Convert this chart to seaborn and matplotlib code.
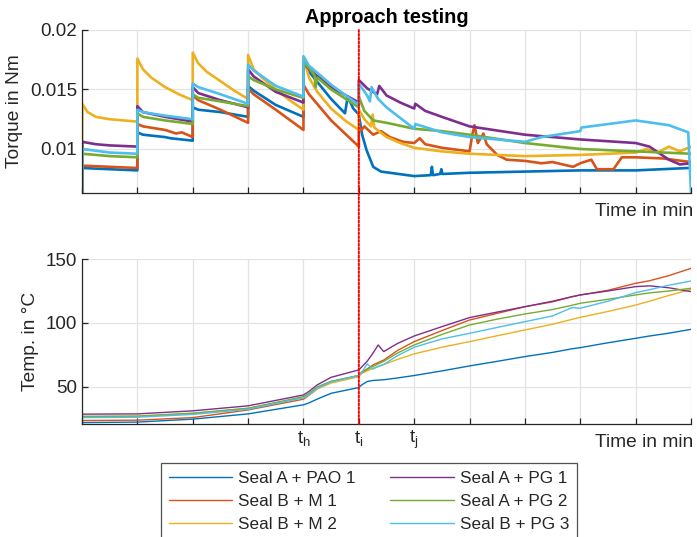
import numpy as np
import pandas as pd
import matplotlib
matplotlib.use("Agg")
import matplotlib.pyplot as plt
import seaborn as sns
from matplotlib.patches import ConnectionPatch
from matplotlib.lines import Line2D

# ---------------- data ----------------
series_names = ["Seal A + PAO 1", "Seal B + M 1", "Seal B + M 2",
                "Seal A + PG 1", "Seal A + PG 2", "Seal B + PG 3"]
series_colors = ["#0072BD", "#D95319", "#EDB120", "#7E2F8E", "#77AC30", "#4DBEEE"]

# torque (time in tick units, value in Nm)
tq_pao1_t = [0, 0.005, 0.5, 1.0, 1.0, 1.1, 1.5, 1.6, 2.0, 2.0, 2.1, 2.5, 3.0, 3.0, 3.1, 3.5, 4.0,
             4.0, 4.1, 4.5, 4.75, 4.8, 4.85, 4.9, 5.0, 5.06, 5.14, 5.26, 5.4, 5.56, 6.0, 6.3, 6.32,
             6.34, 6.47, 6.49, 6.51, 7.0, 8.0, 9.0, 10.0, 10.95]
tq_pao1_v = [0.0063, 0.0084, 0.0083, 0.0082, 0.0114, 0.0112, 0.0110, 0.0109, 0.0107, 0.0135, 0.0133,
             0.0131, 0.0127, 0.0153, 0.0149, 0.0137, 0.0127, 0.0172, 0.0165, 0.0142, 0.0130, 0.0144,
             0.0139, 0.0134, 0.0129, 0.0112, 0.0099, 0.0085, 0.0081, 0.0080, 0.00772, 0.0078, 0.0085,
             0.0078, 0.0079, 0.0083, 0.0079, 0.0080, 0.0081, 0.0082, 0.0082, 0.0084]

tq_m1_t = [0, 0.005, 0.5, 1.0, 1.0, 1.1, 1.5, 1.7, 1.8, 2.0, 2.0, 2.1, 2.5, 3.0, 3.0, 3.1, 3.5, 4.0,
           4.0, 4.1, 4.5, 5.0, 5.0, 5.05, 5.1, 5.26, 5.4, 5.56, 5.8, 6.0, 6.1, 6.2, 6.5, 7.0, 7.05,
           7.09, 7.15, 7.25, 7.31, 7.5, 7.67, 8.0, 8.3, 8.5, 8.87, 9.0, 9.2, 9.3, 9.6, 9.75, 10.0,
           10.5, 11.0]
tq_m1_v = [0.0063, 0.0086, 0.0085, 0.0084, 0.0121, 0.0119, 0.0116, 0.0113, 0.0114, 0.0110, 0.0145,
           0.0141, 0.0133, 0.0122, 0.0151, 0.0146, 0.0133, 0.0116, 0.0154, 0.0146, 0.0124, 0.0102,
           0.0118, 0.0116, 0.0119, 0.0112, 0.0115, 0.0110, 0.0106, 0.0105, 0.0109, 0.0104, 0.0101,
           0.0098, 0.0112, 0.0120, 0.0105, 0.0113, 0.0104, 0.0095, 0.0091, 0.0090, 0.0088, 0.0089,
           0.0085, 0.0088, 0.0091, 0.0083, 0.0083, 0.0093, 0.0093, 0.0092, 0.0089]

tq_m2_t = [0, 0.005, 0.1, 0.25, 0.5, 0.75, 1.0, 1.0, 1.1, 1.25, 1.5, 1.75, 2.0, 2.0, 2.1, 2.25, 2.5,
           2.75, 3.0, 3.0, 3.1, 3.25, 3.5, 3.75, 4.0, 4.0, 4.1, 4.25, 4.5, 4.75, 5.0, 5.0, 5.1, 5.22,
           5.25, 5.28, 5.5, 5.75, 6.0, 6.5, 7.0, 8.0, 9.0, 10.0, 10.2, 10.4, 10.6, 10.8, 11.0]
tq_m2_v = [0.0063, 0.0138, 0.0131, 0.0127, 0.0125, 0.0124, 0.0123, 0.0176, 0.0167, 0.0160, 0.0152,
           0.0146, 0.0141, 0.0181, 0.0172, 0.0165, 0.0157, 0.0149, 0.0142, 0.0179, 0.0167, 0.0160,
           0.0150, 0.0141, 0.0133, 0.0177, 0.0160, 0.0148, 0.0134, 0.0124, 0.0116, 0.0133, 0.0125,
           0.0119, 0.0129, 0.0118, 0.0110, 0.0105, 0.0101, 0.0098, 0.0096, 0.0094, 0.0095, 0.0097,
           0.0100, 0.0097, 0.0102, 0.0098, 0.0102]

tq_pg1_t = [0, 0.005, 0.25, 0.5, 1.0, 1.0, 1.1, 1.5, 2.0, 2.0, 2.1, 2.5, 3.0, 3.0, 3.1, 3.5, 4.0,
            4.0, 4.1, 4.5, 5.0, 5.0, 5.15, 5.33, 5.37, 5.5, 5.75, 6.0, 6.02, 6.2, 6.5, 7.0, 8.0,
            9.0, 10.0, 10.25, 10.6, 10.8, 11.0]
tq_pg1_v = [0.0063, 0.0106, 0.0104, 0.0103, 0.0102, 0.0136, 0.0131, 0.0127, 0.0123, 0.0152, 0.0147,
            0.0141, 0.0135, 0.0167, 0.0161, 0.0148, 0.0139, 0.0173, 0.0167, 0.0152, 0.0139, 0.0158,
            0.0151, 0.0146, 0.0153, 0.0145, 0.0139, 0.0134, 0.0138, 0.0132, 0.0127, 0.0119, 0.0112,
            0.0108, 0.0105, 0.0102, 0.0091, 0.0087, 0.0088]

tq_pg2_t = [0, 0.005, 0.5, 1.0, 1.0, 1.1, 1.5, 2.0, 2.0, 2.1, 2.5, 3.0, 3.0, 3.1, 3.5, 4.0, 4.0,
            4.1, 4.2, 4.22, 4.25, 4.5, 5.0, 5.0, 5.1, 5.26, 5.5, 6.0, 6.5, 7.0, 8.0, 9.0, 10.0, 11.0]
tq_pg2_v = [0.0063, 0.0096, 0.0094, 0.0093, 0.0130, 0.0127, 0.0124, 0.0121, 0.0146, 0.0143, 0.0140,
            0.0136, 0.0161, 0.0158, 0.0150, 0.0143, 0.0173, 0.0168, 0.0162, 0.0152, 0.0160, 0.0150,
            0.0135, 0.0144, 0.0132, 0.0124, 0.0122, 0.0117, 0.0115, 0.0112, 0.0105, 0.0100, 0.0098,
            0.0096]

tq_pg3_t = [0, 0.005, 0.5, 1.0, 1.0, 1.1, 1.5, 2.0, 2.0, 2.1, 2.5, 3.0, 3.0, 3.1, 3.5, 4.0, 4.0,
            4.1, 4.5, 5.0, 5.0, 5.15, 5.2, 5.23, 5.35, 5.5, 5.75, 6.0, 6.02, 6.5, 7.0, 8.0, 8.3,
            9.0, 9.02, 10.0, 10.6, 10.95, 11.0]
tq_pg3_v = [0.0063, 0.0100, 0.0097, 0.0096, 0.0133, 0.0131, 0.0128, 0.0125, 0.0155, 0.0152, 0.0146,
            0.0138, 0.0171, 0.0166, 0.0153, 0.0144, 0.0178, 0.0170, 0.0154, 0.0137, 0.0155, 0.0145,
            0.0140, 0.0152, 0.0142, 0.0135, 0.0126, 0.0117, 0.0121, 0.0114, 0.0110, 0.0106, 0.0110,
            0.0115, 0.0118, 0.0124, 0.0120, 0.0114, 0.0063]

# temperature (shared time grid, value in degC)
temp_t = [0, 1, 2, 3, 4, 4.1, 4.25, 4.5, 5.0, 5.05, 5.15, 5.25, 5.35, 5.45, 5.7, 6.0, 6.5, 7.0,
          7.5, 8.0, 8.5, 8.85, 9.0, 9.5, 10.0, 10.25, 10.6, 11.0]
temp_pao1 = [22.1, 22.5, 24.8, 28.9, 36.0, 37.5, 40.5, 45.0, 49.5, 51.5, 54.2, 55.0, 55.3, 55.6,
             57.0, 58.9, 62.5, 66.4, 70.0, 73.7, 77.0, 79.8, 80.7, 84.5, 88.0, 89.8, 92.0, 95.0]
temp_m1 = [23.7, 24.0, 26.0, 32.0, 40.4, 43.5, 48.5, 54.0, 58.9, 61.5, 64.0, 67.0, 69.0, 71.0,
           78.5, 85.4, 94.0, 102.3, 107.5, 112.7, 116.5, 120.5, 121.9, 125.5, 131.0, 133.0, 137.0, 142.7]
temp_m2 = [26.8, 27.0, 29.0, 33.3, 41.5, 44.0, 48.5, 53.0, 58.0, 60.5, 62.5, 64.5, 66.0, 67.5,
           71.5, 75.8, 81.0, 85.4, 90.0, 94.5, 99.0, 102.8, 104.4, 109.0, 114.0, 117.0, 121.5, 126.3]
temp_pg1 = [28.7, 28.9, 31.3, 35.2, 43.7, 46.5, 51.6, 57.5, 63.3, 65.5, 70.0, 76.0, 82.8, 77.6,
            84.0, 89.8, 97.1, 104.2, 108.5, 112.7, 117.0, 120.5, 121.9, 125.0, 128.4, 129.0, 127.5, 124.5]
temp_pg2 = [27.0, 27.2, 29.5, 33.3, 42.4, 45.0, 50.0, 54.5, 58.9, 61.0, 63.5, 66.0, 68.0, 70.0,
            76.5, 82.8, 91.0, 98.4, 103.0, 107.0, 110.5, 113.8, 115.4, 118.5, 121.9, 123.5, 125.0, 127.1]
temp_pg3 = [26.0, 26.3, 28.5, 32.5, 41.5, 44.0, 49.0, 54.0, 58.9, 61.0, 68.0, 64.0, 66.0, 67.5,
            74.5, 81.0, 87.5, 91.9, 96.5, 101.0, 105.5, 112.0, 111.5, 117.0, 123.7, 126.0, 129.5, 132.8]

xtick_pos = list(range(12))
xtick_labels = ["", "", "", "", r"$\mathrm{t_h}$", r"$\mathrm{t_i}$", r"$\mathrm{t_j}$", "", "", "", "", ""]
torque_ticks = [0.01, 0.015, 0.02]
torque_ticklabels = ["0.01", "0.015", "0.02"]
temp_ticks = [50, 100, 150]
marker_t = 5

# ---------------- build frames ----------------
tq_t = [tq_pao1_t, tq_m1_t, tq_m2_t, tq_pg1_t, tq_pg2_t, tq_pg3_t]
tq_v = [tq_pao1_v, tq_m1_v, tq_m2_v, tq_pg1_v, tq_pg2_v, tq_pg3_v]
rows = []
for name, ts, vs in zip(series_names, tq_t, tq_v):
    for i, (t, v) in enumerate(zip(ts, vs)):
        rows.append((name, i, t, v))
df_tq = pd.DataFrame(rows, columns=["series", "idx", "t", "v"])

temp_vals = [temp_pao1, temp_m1, temp_m2, temp_pg1, temp_pg2, temp_pg3]
rows = []
for name, vs in zip(series_names, temp_vals):
    for i, (t, v) in enumerate(zip(temp_t, vs)):
        rows.append((name, i, t, v))
df_tp = pd.DataFrame(rows, columns=["series", "idx", "t", "v"])

# ---------------- style ----------------
sns.set_style("ticks")
plt.rcParams["font.family"] = ["Liberation Sans", "DejaVu Sans"]
plt.rcParams["mathtext.fontset"] = "custom"
plt.rcParams["mathtext.rm"] = "Liberation Sans"
plt.rcParams["mathtext.it"] = "Liberation Sans:italic"
axcol = "#262626"
TICK_FS = 13.5
LAB_FS = 13.8

fig = plt.figure(figsize=(6.97, 5.37), dpi=100)
W, H = 697, 537
ax1 = fig.add_axes([82 / W, 1 - 193 / H, (691 - 82) / W, (193 - 30) / H])
ax2 = fig.add_axes([82 / W, 1 - 424 / H, (691 - 82) / W, (424 - 259) / H])

palette = dict(zip(series_names, series_colors))
sns.lineplot(data=df_tq, x="t", y="v", hue="series", hue_order=series_names, palette=palette,
             units="series", estimator=None, sort=False, lw=1.9, ax=ax1, legend=False)
sns.lineplot(data=df_tp, x="t", y="v", hue="series", hue_order=series_names, palette=palette,
             units="series", estimator=None, sort=False, lw=1.0, ax=ax2, legend=False)

for ax in (ax1, ax2):
    ax.set_xlim(0, 11)
    ax.set_xticks(xtick_pos)
    ax.grid(True, color="#e3e3e3", lw=0.9)
    ax.set_axisbelow(True)
    for s in ("top", "right"):
        ax.spines[s].set_visible(False)
    for s in ("left", "bottom"):
        ax.spines[s].set_color(axcol)
        ax.spines[s].set_linewidth(0.9)
    ax.tick_params(direction="in", length=4, width=0.9, color=axcol, labelcolor=axcol,
                   labelsize=TICK_FS)
    ax.set_ylabel("")

ax1.set_ylim(0.0063, 0.02)
ax1.set_yticks(torque_ticks)
ax1.set_yticklabels(torque_ticklabels)
ax1.set_xticklabels([""] * len(xtick_pos))
ax1.set_ylabel("Torque in Nm", fontsize=LAB_FS, color=axcol, labelpad=5)
ax1.set_xlabel("Time in min", fontsize=LAB_FS, color=axcol, loc="right")
ax1.xaxis.set_label_coords(1.003, -0.06)
ax1.set_title("Approach testing", fontsize=14.3, fontweight="bold", color="black", pad=5)

ax2.set_ylim(21, 150)
ax2.set_yticks(temp_ticks)
ax2.set_xticklabels(xtick_labels)
ax2.set_ylabel("Temp. in °C", fontsize=LAB_FS, color=axcol, labelpad=5)
ax2.set_xlabel("Time in min", fontsize=LAB_FS, color=axcol, loc="right")
ax2.xaxis.set_label_coords(1.003, -0.062)

con = ConnectionPatch(xyA=(marker_t, 0.02), coordsA=ax1.transData,
                      xyB=(marker_t, 21), coordsB=ax2.transData,
                      color="#ff0000", lw=1.4, linestyle=(0, (1, 1)), zorder=10)
fig.add_artist(con)

handles = [Line2D([], [], color=c, lw=1.0) for c in series_colors]
leg = fig.legend(handles, series_names, ncol=2, loc="upper left",
                 bbox_to_anchor=(161 / W, 1 - 463 / H), bbox_transform=fig.transFigure,
                 borderaxespad=0, fontsize=12.3, frameon=True, fancybox=False,
                 handlelength=3.7, handletextpad=0.35, columnspacing=2.05, labelspacing=0.48,
                 borderpad=0.45)
leg.get_frame().set_edgecolor(axcol)
leg.get_frame().set_linewidth(0.9)
for txt in leg.get_texts():
    txt.set_color(axcol)

fig.savefig("out.png", dpi=100)
